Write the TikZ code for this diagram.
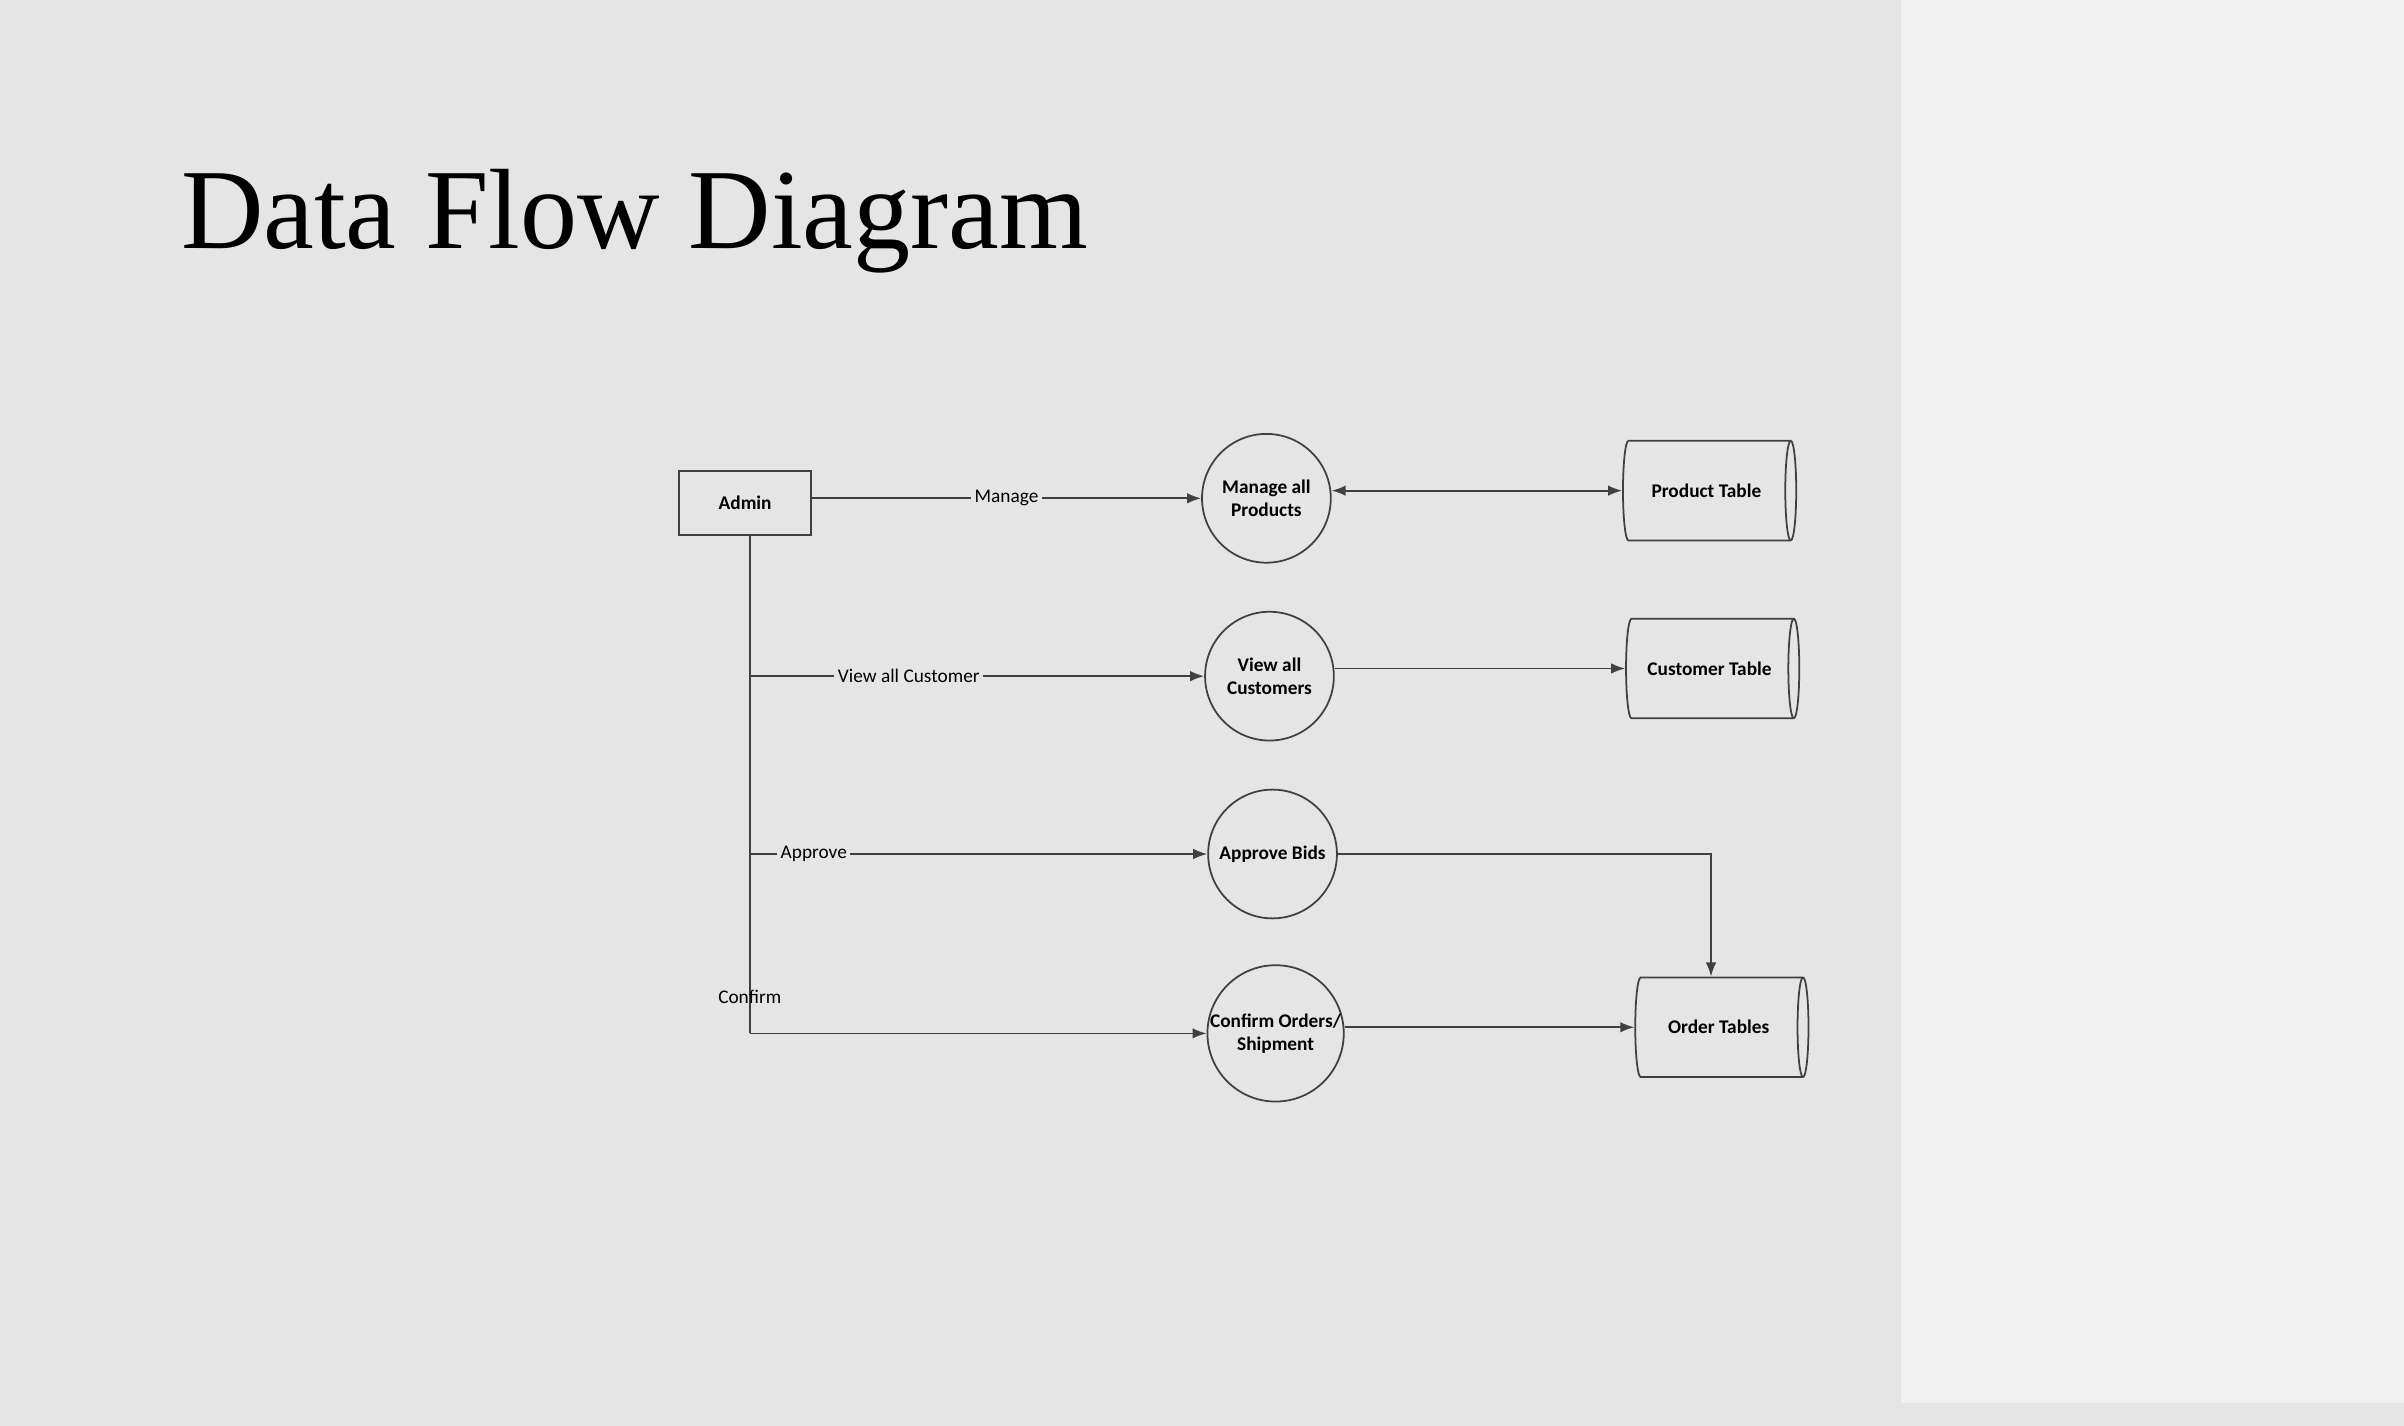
\documentclass[tikz,border=0pt]{standalone}
\usepackage{fontspec}
\setmainfont{Liberation Serif}
\newfontfamily\lblfont{Carlito}
\usetikzlibrary{shapes.geometric,arrows.meta}
\begin{document}
\begin{tikzpicture}[x=0.01533cm,y=-0.01533cm,
  lbl/.style={font=\lblfont\fontsize{5.5}{6.5}\selectfont},
  bold/.style={font=\lblfont\bfseries\fontsize{5.5}{6.5}\selectfont},
  proc/.style={circle,draw=black!75,line width=0.5pt,minimum size=84*0.01533cm,inner sep=0pt,align=center,bold},
  store/.style={cylinder,draw=black!75,line width=0.5pt,shape aspect=0.8,minimum height=113*0.01533cm,minimum width=65*0.01533cm,inner sep=0pt,bold},
  flow/.style={draw=black!75,line width=0.5pt,-{Latex[length=4pt,width=3pt]}},
  wire/.style={draw=black!75,line width=0.5pt}]
\fill[black!10] (0,0) rectangle (1568,930);
\fill[black!6] (1240,0) rectangle (1568,915);
\useasboundingbox (0,0) rectangle (1568,930);
\node[anchor=west,font=\fontsize{32.5}{38}\selectfont] (title) at (110,144) {Data Flow Diagram};
\node[draw=black!75,line width=0.5pt,minimum width=86*0.01533cm,minimum height=42*0.01533cm,bold] (admin) at (486,328) {Admin};
\node[proc] (p1) at (826,325) {Manage all\\Products};
\node[proc] (p2) at (828,441) {View all\\Customers};
\node[proc] (p3) at (830,557) {Approve Bids};
\node[proc] (p4) at (832,674) {Confirm Orders/\\Shipment};
\node[store] (s1) at (1113,320) {Product Table};
\node[store] (s2) at (1115,436) {Customer Table};
\node[store] (s3) at (1121,670) {Order Tables};
\coordinate (top) at (489,349);
\coordinate (b2) at (489,441);
\coordinate (b3) at (489,557);
\coordinate (b4) at (489,674);
\coordinate (bend) at (1116,557);
\draw[flow] (admin.east |- p1.west) -- node[lbl,fill=black!10,inner sep=1pt]{Manage} (p1.west);
\draw[wire] (top) -- (b4);
\draw[flow] (b2) -- node[lbl,fill=black!10,inner sep=1pt,pos=0.35]{View all Customer} (p2.west);
\draw[flow] (b3) -- node[lbl,fill=black!10,inner sep=1pt,pos=0.14]{Approve} (p3.west);
\draw[flow] (b4) node[lbl,above=5pt]{Confirm} -- (p4.west);
\draw[draw=black!75,line width=0.5pt,{Latex[length=4pt,width=3pt]}-{Latex[length=4pt,width=3pt]}] (p1.east |- s1.west) -- (s1.west);
\draw[flow] (p2.east |- s2.west) -- (s2.west);
\draw[flow] (p3.east) -- (bend) -- (bend |- s3.north);
\draw[flow] (p4.east |- s3.west) -- (s3.west);
\end{tikzpicture}
\end{document}
